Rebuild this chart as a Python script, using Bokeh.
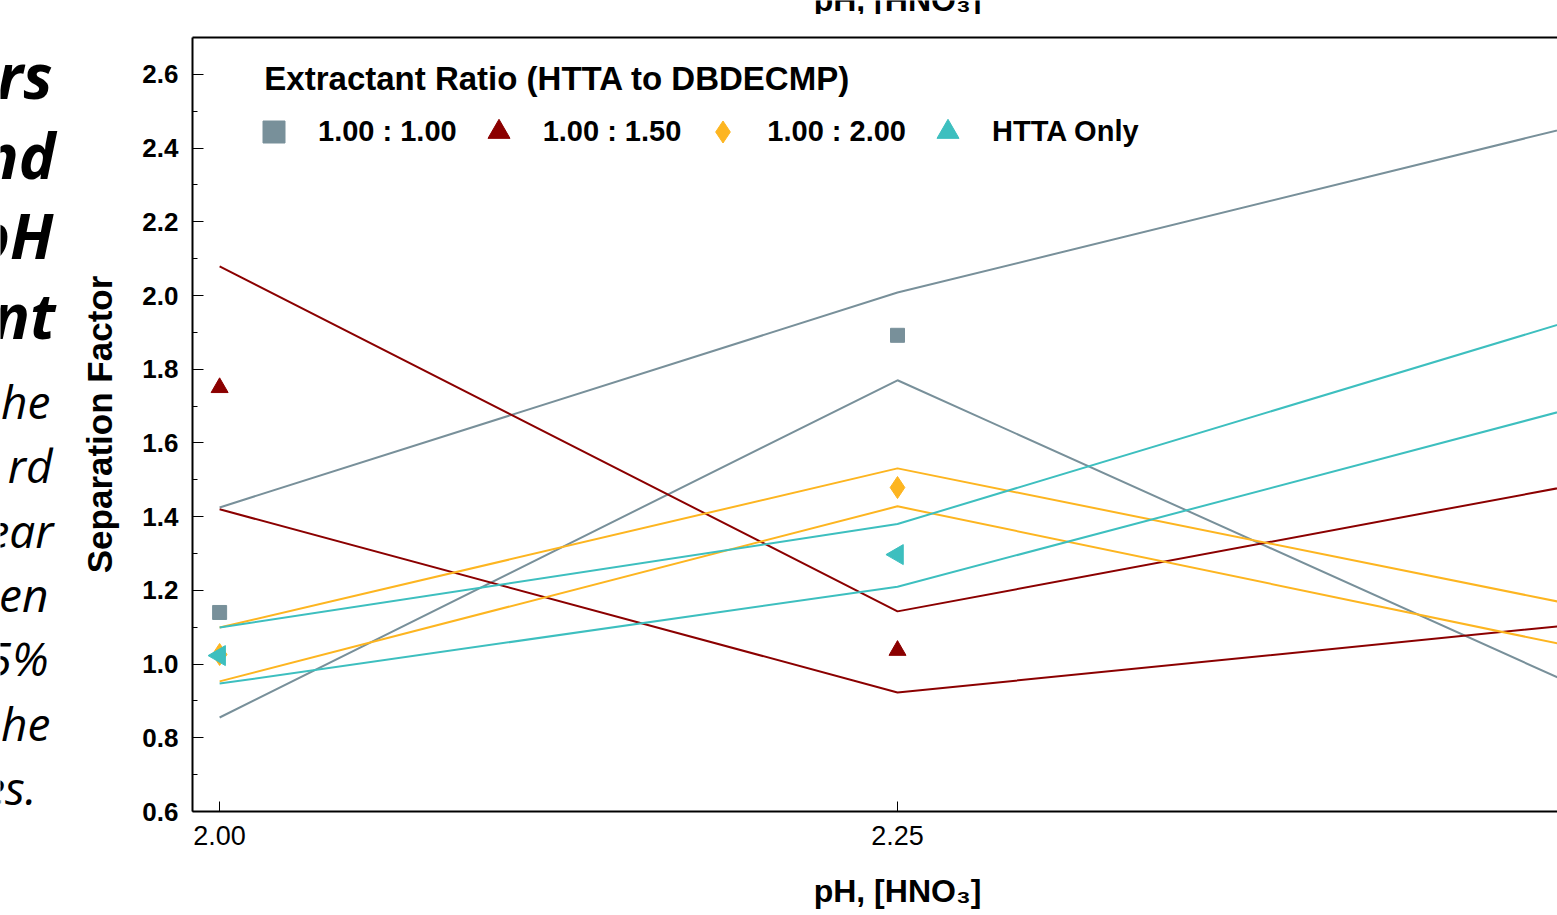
import math
from bokeh.plotting import figure
from bokeh.layouts import row, column
from bokeh.models import (Legend, LegendItem, LinearAxis, Label, Range1d,
                          FixedTicker, NumeralTickFormatter)
from bokeh.embed import file_html
from bokeh.resources import INLINE

# ---------------- data ----------------
ph_line = [2.00, 2.25, 2.50]      # pH positions of the fitted/bound lines
ph_obs = [2.00, 2.25]             # pH positions of the measured points

series_names = ["1.00 : 1.00", "1.00 : 1.50", "1.00 : 2.00", "HTTA Only"]
series_colors = ["#78909A", "#8B0000", "#FDB520", "#3DBFBF"]
series_markers = ["square", "triangle", "diamond", "triangle"]
series_angles = [0.0, 0.0, 0.0, math.pi / 2]
series_sizes = [14, 17, 22, 20]

# measured separation factors
sf_obs = [
    [1.14, 1.892],    # 1.00 : 1.00
    [1.75, 1.037],    # 1.00 : 1.50
    [1.026, 1.479],   # 1.00 : 2.00
    [1.023, 1.297],   # HTTA only
]
# upper bound lines
sf_upper = [
    [1.425, 2.008, 2.46],
    [2.079, 1.143, 1.486],
    [1.099, 1.531, 1.16],
    [1.099, 1.38, 1.935],
]
# lower bound lines
sf_lower = [
    [0.855, 1.77, 0.942],
    [1.42, 0.923, 1.107],
    [0.953, 1.428, 1.046],
    [0.947, 1.21, 1.696],
]

y_ticks = [0.6, 0.8, 1.0, 1.2, 1.4, 1.6, 1.8, 2.0, 2.2, 2.4, 2.6]
y_minor = [0.7, 0.9, 1.1, 1.3, 1.5, 1.7, 1.9, 2.1, 2.3, 2.5]
x_ticks = [2.00, 2.25, 2.50]

x_title = "pH, [HNO\u2083]"
y_title = "Separation Factor"
legend_title = "\u00a0\u00a0Extractant Ratio (HTTA to DBDECMP)"

# slide text fragments visible at the left edge (text, right edge x, baseline y)
side_big = [("rs", 52, 97), ("nd", 55, 177), ("pH", 53, 257), ("nt", 55, 337)]
side_small = [("he", 50, 418), ("rd", 52, 482), ("ear", 53, 547), ("en", 48, 611),
              ("5%", 48, 675), ("he", 50, 740), ("es.", 36, 804)]

FONT = "Liberation Sans"

# ---------------- geometry ----------------
W, H = 1557, 915
LEFT_W = 60          # strip with slide text
TOP_H = 14           # strip with the cut-off title of the panel above
BOT_H = 50           # strip with the x axis title
FL, FT, FB = 192, 37, 811   # frame edges in window pixels
BIG_SHIFT, SMALL_SHIFT, TITLE_SHIFT = 23, 18, 8   # baseline corrections


def strip(width, height):
    f = figure(width=width, height=height, output_backend="svg", toolbar_location=None,
               x_range=Range1d(0, width), y_range=Range1d(0, height),
               x_axis_location=None, y_axis_location=None,
               min_border=0, min_border_left=0, min_border_right=0,
               min_border_top=0, min_border_bottom=0)
    f.outline_line_color = None
    f.grid.visible = False
    return f


# ---------------- left strip (slide text) ----------------
left = strip(LEFT_W, H)
for txt, xr, yb in side_big:
    left.add_layout(Label(x=xr, y=H - (yb - BIG_SHIFT), x_units="screen", y_units="screen",
                          text=txt, text_font="Open Sans", text_font_size="62px",
                          text_font_style="bold italic", text_align="right",
                          text_baseline="alphabetic", text_color="black"))
for txt, xr, yb in side_small:
    left.add_layout(Label(x=xr, y=H - (yb - SMALL_SHIFT), x_units="screen", y_units="screen",
                          text=txt, text_font="Open Sans", text_font_size="46px",
                          text_font_style="italic", text_align="right",
                          text_baseline="alphabetic", text_color="black"))

# ---------------- top strip (title of the panel above, cut by the window) ----------------
top_strip = strip(W - LEFT_W, TOP_H)
# the column aligns the strips' frames with the chart's frame (left edge at FL)
top_strip.add_layout(Label(x=897 - FL, y=TOP_H - (7 - TITLE_SHIFT), x_units="screen",
                           y_units="screen", text=x_title, text_font=FONT,
                           text_font_size="32px", text_font_style="bold",
                           text_align="center", text_baseline="alphabetic",
                           text_color="black"))

# ---------------- bottom strip (x axis title, centred on pH 2.25) ----------------
bot_strip = strip(W - LEFT_W, BOT_H)
bot_strip.add_layout(Label(x=897 - FL, y=H - 902 + TITLE_SHIFT + 4, x_units="screen",
                           y_units="screen", text=x_title, text_font=FONT,
                           text_font_size="32px", text_font_style="bold",
                           text_align="center", text_baseline="alphabetic",
                           text_color="black"))

# ---------------- main chart ----------------
p = figure(width=W - LEFT_W, height=H - TOP_H - BOT_H, output_backend="svg",
           toolbar_location=None,
           x_range=Range1d(1.990, 2.4934), y_range=Range1d(0.6, 2.70),
           min_border_left=FL - LEFT_W, min_border_right=0, min_border_top=FT - TOP_H,
           min_border_bottom=H - BOT_H - FB)
p.outline_line_color = None
p.grid.visible = False

for i in range(4):
    p.line(ph_line, sf_upper[i], line_color=series_colors[i], line_width=2)
    p.line(ph_line, sf_lower[i], line_color=series_colors[i], line_width=2)

marker_renderers = []
for i in range(4):
    r = p.scatter(ph_obs, sf_obs[i], marker=series_markers[i], angle=series_angles[i],
                  size=series_sizes[i], fill_color=series_colors[i],
                  line_color=series_colors[i])
    marker_renderers.append(r)

xa = p.xaxis[0]
xa.ticker = FixedTicker(ticks=x_ticks, minor_ticks=[])
xa.formatter = NumeralTickFormatter(format="0.00")
xa.major_tick_in = 10
xa.major_tick_out = 0
xa.minor_tick_in = 0
xa.minor_tick_out = 0
xa.major_label_standoff = 14
xa.major_label_text_font = FONT
xa.major_label_text_font_size = "27px"
xa.major_label_text_color = "black"
xa.axis_line_width = 2
xa.axis_line_color = "black"

ya = p.yaxis[0]
ya.ticker = FixedTicker(ticks=y_ticks, minor_ticks=y_minor)
ya.formatter = NumeralTickFormatter(format="0.0")
ya.major_tick_in = 11
ya.major_tick_out = 0
ya.minor_tick_in = 5
ya.minor_tick_out = 0
ya.major_label_standoff = 14
ya.major_label_text_font = FONT
ya.major_label_text_font_size = "26px"
ya.major_label_text_font_style = "bold"
ya.major_label_text_color = "black"
ya.axis_label = y_title
ya.axis_label_text_font = FONT
ya.axis_label_text_font_size = "35px"
ya.axis_label_text_font_style = "bold"
ya.axis_label_text_color = "black"
ya.axis_label_standoff = 20
ya.axis_line_width = 2
ya.axis_line_color = "black"

top_axis = LinearAxis(ticker=FixedTicker(ticks=[]), major_label_text_font_size="0px",
                      axis_line_width=2, axis_line_color="black",
                      major_tick_in=0, major_tick_out=0, minor_tick_in=0, minor_tick_out=0)
p.add_layout(top_axis, "above")

items = [LegendItem(label=series_names[i], renderers=[marker_renderers[i]]) for i in range(4)]
legend = Legend(items=items, orientation="horizontal", title=legend_title,
                location=(54, FB - FT - 122), border_line_color=None,
                background_fill_alpha=0, padding=0, margin=0,
                glyph_width=55, glyph_height=55, label_standoff=17, spacing=14,
                label_text_font=FONT, label_text_font_size="29px",
                label_text_font_style="bold", label_text_color="black",
                title_text_font=FONT, title_text_font_size="33px",
                title_text_font_style="bold", title_text_color="black",
                title_standoff=6)
p.add_layout(legend)

layout = row(left, column(top_strip, p, bot_strip, spacing=0), spacing=0)
open("out.html", "w").write(file_html(layout, INLINE))
